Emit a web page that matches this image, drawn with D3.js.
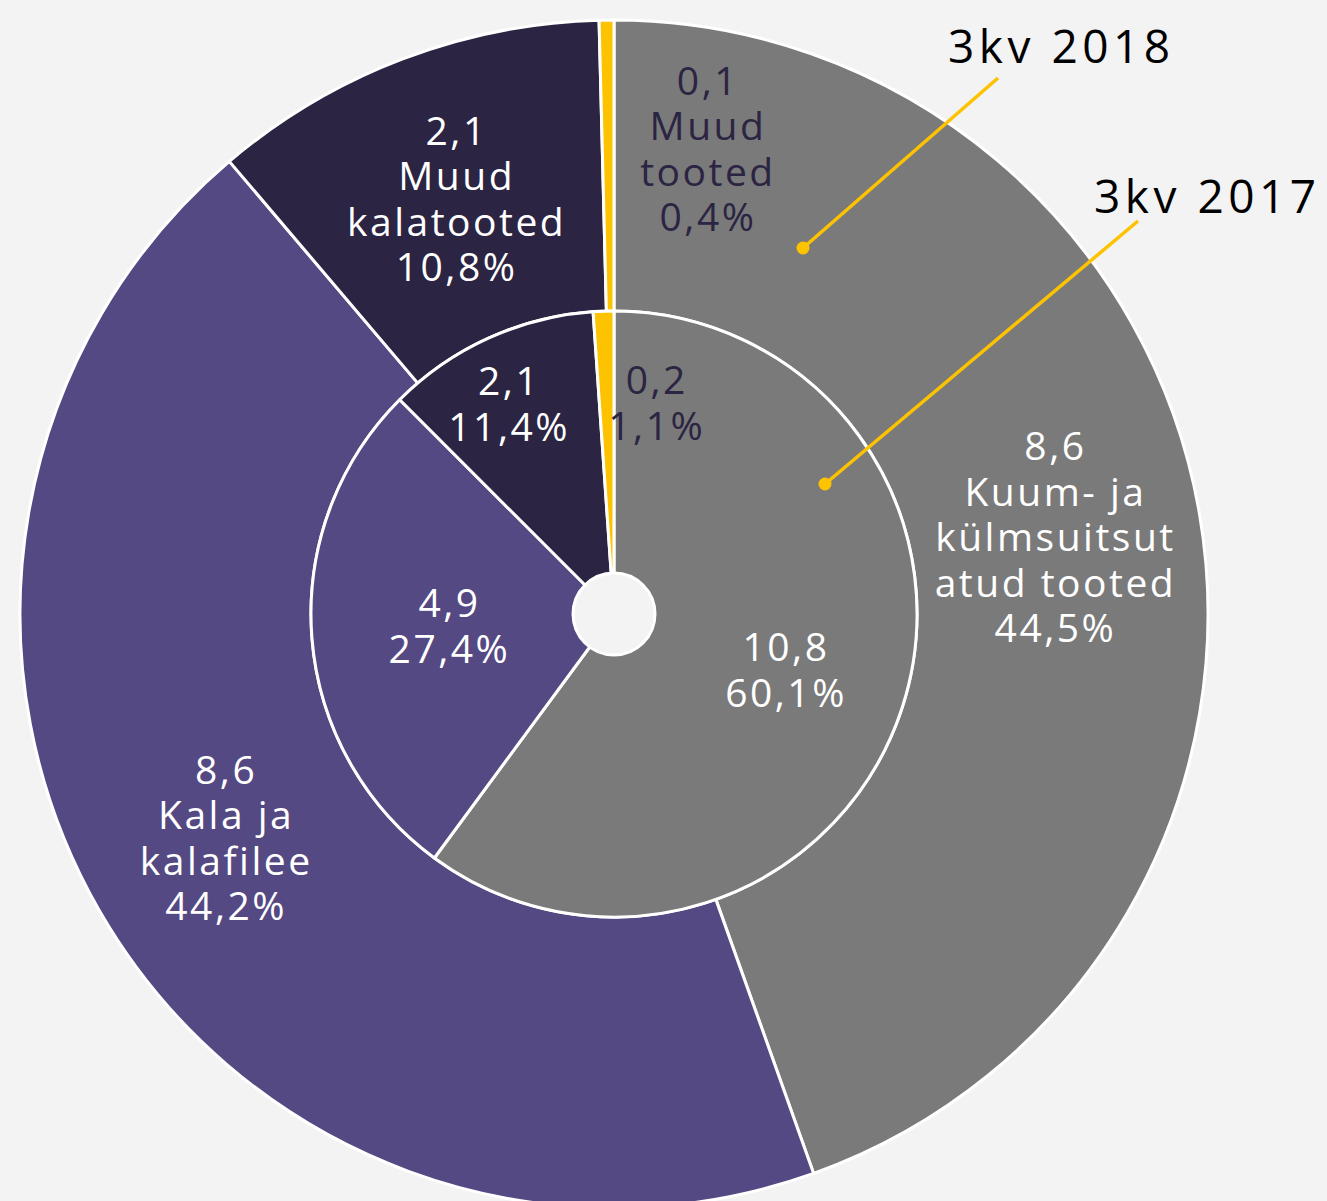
<!DOCTYPE html>
<html>
<head>
<meta charset="utf-8">
<script src="https://cdn.jsdelivr.net/npm/d3@7"></script>
<style>
  html, body { margin: 0; padding: 0; background: #f3f3f3; }
  text { font-family: "Open Sans", sans-serif; }
</style>
</head>
<body>
<div id="chart"></div>
<script>
// categories, clockwise from 12 o'clock
var categories = ["Kuum- ja külmsuitsutatud tooted", "Kala ja kalafilee", "Muud kalatooted", "Muud tooted"];
var outerLabels = [["Kuum- ja", "külmsuitsut", "atud tooted"], ["Kala ja", "kalafilee"], ["Muud", "kalatooted"], ["Muud", "tooted"]];

// 3kv 2018 (outer ring)
var values2018 = [8.6, 8.6, 2.1, 0.1];
var shares2018 = [44.5, 44.2, 10.8, 0.4];
// 3kv 2017 (inner pie)
var values2017 = [10.8, 4.9, 2.1, 0.2];
var shares2017 = [60.1, 27.4, 11.4, 1.1];

var colors = ["#7a7a7a", "#554983", "#2b2442", "#fdc300"];
var textColors = ["#ffffff", "#ffffff", "#ffffff", "#2b2442"];

var fmt = function(v) { return String(v).replace(".", ","); };

var width = 1327, height = 1201;
var cx = 614, cy = 614;
var rHole = 41, rInner = 303, rOuter = 594;

var svg = d3.select("#chart")
  .append("svg")
    .attr("width", width)
    .attr("height", height)
    .style("display", "block");

svg.append("rect").attr("width", width).attr("height", height).attr("fill", "#f3f3f3");

var g = svg.append("g").attr("transform", "translate(" + cx + "," + cy + ")");

var pie = d3.pie().sort(null).value(function(d) { return d; });

var innerArcs = pie(shares2017);
var outerArcs = pie(shares2018);

var innerArc = d3.arc().innerRadius(0).outerRadius(rInner);
var outerArc = d3.arc().innerRadius(rInner).outerRadius(rOuter);

g.selectAll("path.outer")
  .data(outerArcs)
  .enter().append("path")
    .attr("class", "outer")
    .attr("d", outerArc)
    .attr("fill", function(d, i) { return colors[i]; })
    .attr("stroke", "#ffffff")
    .attr("stroke-width", 3)
    .attr("stroke-linejoin", "round");

g.selectAll("path.inner")
  .data(innerArcs)
  .enter().append("path")
    .attr("class", "inner")
    .attr("d", innerArc)
    .attr("fill", function(d, i) { return colors[i]; })
    .attr("stroke", "#ffffff")
    .attr("stroke-width", 3)
    .attr("stroke-linejoin", "round");

// hole
g.append("circle")
  .attr("r", rHole)
  .attr("fill", "#f3f3f3")
  .attr("stroke", "#ffffff")
  .attr("stroke-width", 3);

// label placement: radius and angle shift (radians) per slice
var outerLabelRadius = [447, 449, 444, 474];
var outerLabelShift = [0, 0, 0, 0.21];
var innerLabelRadius = [180, 166, 235, 215];
var innerLabelShift = [0, 0, -0.04, 0.23];

var lineH = 45.5;
var fontSize = 39;

function labelPos(d, r, shift) {
  var a = (d.startAngle + d.endAngle) / 2 + shift;
  return [Math.sin(a) * r, -Math.cos(a) * r];
}

function drawLabel(pos, lines, color) {
  var t = g.append("text")
    .attr("text-anchor", "middle")
    .attr("fill", color)
    .attr("font-size", fontSize)
    .attr("letter-spacing", "2.5px");
  var top = pos[1] - (lines.length - 1) * lineH / 2;
  lines.forEach(function(s, k) {
    t.append("tspan")
      .attr("x", pos[0] + 1)
      .attr("y", top + k * lineH)
      .attr("dy", "0.35em")
      .text(s);
  });
}

outerArcs.forEach(function(d, i) {
  var lines = [fmt(values2018[i])].concat(outerLabels[i]).concat([fmt(shares2018[i]) + "%"]);
  drawLabel(labelPos(d, outerLabelRadius[i], outerLabelShift[i]), lines, textColors[i]);
});

innerArcs.forEach(function(d, i) {
  var lines = [fmt(values2017[i]), fmt(shares2017[i]) + "%"];
  drawLabel(labelPos(d, innerLabelRadius[i], innerLabelShift[i]), lines, textColors[i]);
});

// series annotations
var annotations = [
  {label: "3kv 2018", text: [948, 63], from: [998, 78], to: [803, 248]},
  {label: "3kv 2017", text: [1094, 213], from: [1138, 221], to: [825, 484]}
];

annotations.forEach(function(a) {
  svg.append("line")
    .attr("x1", a.from[0]).attr("y1", a.from[1])
    .attr("x2", a.to[0]).attr("y2", a.to[1])
    .attr("stroke", "#fdc300")
    .attr("stroke-width", 3.5);
  svg.append("circle")
    .attr("cx", a.to[0]).attr("cy", a.to[1])
    .attr("r", 6.5)
    .attr("fill", "#fdc300");
  svg.append("text")
    .attr("x", a.text[0])
    .attr("y", a.text[1])
    .attr("font-size", 46)
    .attr("letter-spacing", "4.5px")
    .attr("fill", "#000000")
    .text(a.label);
});
</script>
</body>
</html>
